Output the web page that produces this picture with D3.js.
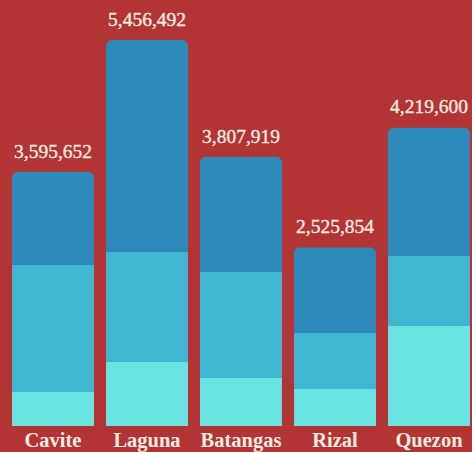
<!DOCTYPE html>
<html>
<head>
<meta charset="utf-8">
<script src="https://cdn.jsdelivr.net/npm/d3@7"></script>
<style>
  html, body { margin: 0; padding: 0; background: #b33434; }
  svg { display: block; }
</style>
</head>
<body>
<svg id="chart" width="472" height="452"></svg>
<script>
// Data
const categories = ["Cavite", "Laguna", "Batangas", "Rizal", "Quezon"];
const seriesKeys = ["bottom", "middle", "top"];
const bottomValues = [480600, 904700, 678500, 523000, 1413600];
const middleValues = [1795300, 1555000, 1498400, 791600, 989500];
const topValues = [1319752, 2996792, 1631019, 1211254, 1816500];
const totalLabels = ["3,595,652", "5,456,492", "3,807,919", "2,525,854", "4,219,600"];
const colors = ["#6ae3e3", "#40b6d2", "#2d89b9"];

const W = 472, H = 452;
const svg = d3.select("#chart");

svg.append("rect").attr("width", W).attr("height", H).attr("fill", "#b33434");

const rows = categories.map((c, i) => ({
  category: c,
  bottom: bottomValues[i],
  middle: middleValues[i],
  top: topValues[i],
  label: totalLabels[i]
}));
rows.forEach(r => r.total = r.bottom + r.middle + r.top);

const x = d3.scaleBand()
  .domain(categories)
  .range([6, 476])
  .paddingInner(0.128)
  .paddingOuter(0.064);

const y = d3.scaleLinear()
  .domain([0, d3.max(rows, r => r.total)])
  .range([426, 40]);

const stacked = d3.stack().keys(seriesKeys)(rows);

const defs = svg.append("defs");
rows.forEach((r, i) => {
  defs.append("clipPath").attr("id", "clip" + i)
    .append("rect")
    .attr("x", x(r.category))
    .attr("y", y(r.total))
    .attr("width", x.bandwidth())
    .attr("height", y(0) - y(r.total) + 10)
    .attr("rx", 6).attr("ry", 6);
});

const g = svg.append("g");
stacked.forEach((layer, li) => {
  g.selectAll(null)
    .data(layer)
    .enter()
    .append("rect")
    .attr("clip-path", (d, i) => "url(#clip" + i + ")")
    .attr("x", d => x(d.data.category))
    .attr("y", d => y(d[1]))
    .attr("width", x.bandwidth())
    .attr("height", d => y(d[0]) - y(d[1]))
    .attr("fill", colors[li]);
});

const fontFam = "'Liberation Serif', 'DejaVu Serif', serif";

// value labels
svg.selectAll(null)
  .data(rows)
  .enter()
  .append("text")
  .attr("x", d => x(d.category) + x.bandwidth() / 2)
  .attr("y", d => y(d.total) - 14)
  .attr("text-anchor", "middle")
  .attr("font-family", fontFam)
  .attr("font-size", 19.5)
  .attr("fill", "#f8ebe0")
  .attr("stroke", "#f8ebe0")
  .attr("stroke-width", 0.35)
  .text(d => d.label);

// category axis
const xAxis = d3.axisBottom(x).tickSize(0).tickPadding(0);
const axisG = svg.append("g").attr("transform", "translate(0,426)").call(xAxis);
axisG.select(".domain").remove();
axisG.selectAll("text")
  .attr("dy", null)
  .attr("y", 21)
  .attr("font-family", fontFam)
  .attr("font-size", 20.5)
  .attr("font-weight", "bold")
  .attr("fill", "#f8ebe0");
</script>
</body>
</html>
